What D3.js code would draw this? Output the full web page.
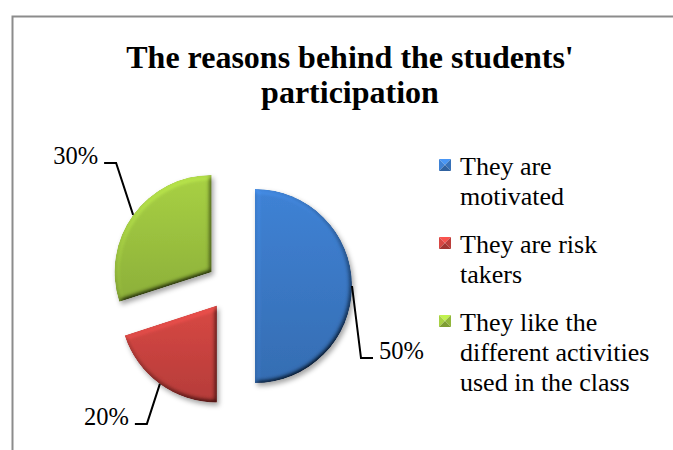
<!DOCTYPE html>
<html>
<head>
<meta charset="utf-8">
<script src="https://cdn.jsdelivr.net/npm/d3@7"></script>
<style>
  html, body { margin: 0; padding: 0; background: #fff; }
  svg { display: block; font-family: "Liberation Serif", "Times New Roman", serif; }
</style>
</head>
<body>
<svg id="chart" width="673" height="450"></svg>
<script>
// chart data
const categories = ["They are motivated", "They are risk takers", "They like the different activities used in the class"];
const legendLines = [["They are", "motivated"], ["They are risk", "takers"], ["They like the", "different activities", "used in the class"]];
const percentages = [50, 20, 30];
const sliceColors = ["#3b79c6", "#c9433f", "#9cc33f"];
const titleLines = ["The reasons behind the students'", "participation"];

// layout
const PIE = { cx: 231, cy: 286, r: 97, explode: 24 };
// where each leader line bends, relative to the slice edge
const labelBend = [[9, 72], [-13, 40], [-17, -52]];
const LEADER_H = 12, LABEL_GAP = 6;

let svg = d3.select("#chart");
let defs = svg.append("defs");

let color = d3.scaleOrdinal(categories, sliceColors);

// frame of the chart area
svg.append("rect")
   .attr("x", 12.5).attr("y", 16.5)
   .attr("width", 720).attr("height", 500)
   .attr("fill", "#fff")
   .attr("stroke", "#8c8c8c")
   .attr("stroke-width", 2);

// title, one text per line
svg.append("g")
   .attr("text-anchor", "middle")
   .attr("font-size", 32)
   .attr("font-weight", "bold")
   .selectAll("text")
   .data(titleLines)
   .enter().append("text")
   .attr("x", 350)
   .attr("y", (d, i) => 68 + i * 35)
   .text((d) => d);

// bevel + shadow filter
let f = defs.append("filter").attr("id", "bevel")
   .attr("x", "-20%").attr("y", "-20%").attr("width", "150%").attr("height", "150%");
f.append("feGaussianBlur").attr("in", "SourceAlpha").attr("stdDeviation", 2.5).attr("result", "blur");
f.append("feDiffuseLighting").attr("in", "blur").attr("surfaceScale", 4)
   .attr("diffuseConstant", 1).attr("lighting-color", "#fff").attr("result", "diff")
   .append("feDistantLight").attr("azimuth", 235).attr("elevation", 55);
f.append("feComposite").attr("in", "SourceGraphic").attr("in2", "diff")
   .attr("operator", "arithmetic").attr("k1", 1.22).attr("k2", 0).attr("k3", 0).attr("k4", 0)
   .attr("result", "lit");
f.append("feComposite").attr("in", "lit").attr("in2", "SourceAlpha").attr("operator", "in").attr("result", "litIn");
f.append("feGaussianBlur").attr("in", "SourceAlpha").attr("stdDeviation", 2.5).attr("result", "sblur");
f.append("feOffset").attr("in", "sblur").attr("dx", 2).attr("dy", 3).attr("result", "soff");
f.append("feFlood").attr("flood-color", "#000").attr("flood-opacity", 0.35).attr("result", "sc");
f.append("feComposite").attr("in", "sc").attr("in2", "soff").attr("operator", "in").attr("result", "shadow");
let merge = f.append("feMerge");
merge.append("feMergeNode").attr("in", "shadow");
merge.append("feMergeNode").attr("in", "litIn");

// gradients per slice
categories.forEach((c, i) => {
  let g = defs.append("linearGradient").attr("id", "grad" + i)
     .attr("x1", 0).attr("y1", 0).attr("x2", 0).attr("y2", 1);
  g.append("stop").attr("offset", "0%").attr("stop-color", d3.color(color(c)).brighter(0.2));
  g.append("stop").attr("offset", "100%").attr("stop-color", d3.color(color(c)).darker(0.3));
});

let pie = d3.pie().sort(null).value((d) => d.value);
let arcs = pie(categories.map((c, i) => ({ name: c, value: percentages[i], i: i })));
let arc = d3.arc().innerRadius(0).outerRadius(PIE.r);

let dir = (a) => [Math.sin(a), -Math.cos(a)];

let slices = svg.append("g").attr("transform", "translate(" + PIE.cx + "," + PIE.cy + ")");

slices.selectAll("path")
   .data(arcs)
   .enter().append("path")
   .attr("transform", (d) => {
     let m = dir((d.startAngle + d.endAngle) / 2);
     return "translate(" + m[0] * PIE.explode + "," + m[1] * PIE.explode + ")";
   })
   .attr("d", arc)
   .attr("fill", (d) => "url(#grad" + d.data.i + ")")
   .attr("filter", "url(#bevel)");

// leader lines and labels
arcs.forEach((d, i) => {
  let mid = (d.startAngle + d.endAngle) / 2;
  let m = dir(mid);
  let edge = [m[0] * (PIE.r + PIE.explode), m[1] * (PIE.r + PIE.explode)];
  let bend = [edge[0] + labelBend[i][0], edge[1] + labelBend[i][1]];
  let side = labelBend[i][0] >= 0 ? 1 : -1;
  let end = [bend[0] + side * LEADER_H, bend[1]];
  slices.append("path")
     .attr("d", d3.line()([edge, bend, end]))
     .attr("fill", "none")
     .attr("stroke", "#000")
     .attr("stroke-width", 2);
  slices.append("text")
     .attr("x", end[0] + side * LABEL_GAP)
     .attr("y", end[1] + 1)
     .attr("text-anchor", side > 0 ? "start" : "end")
     .attr("font-size", 24.5)
     .text(d.data.value + "%");
});

// legend
let legend = svg.append("g").attr("transform", "translate(439,0)");
let baseY = 175;
categories.forEach((c, i) => {
  let g = legend.append("g").attr("transform", "translate(0," + baseY + ")");
  let base = d3.color(color(c));
  let s = 12, y0 = -16;
  let tri = [
    [[0, y0], [s, y0], [s / 2, y0 + s / 2], base.brighter(0.6)],
    [[0, y0], [s / 2, y0 + s / 2], [0, y0 + s], base.brighter(0.2)],
    [[s, y0], [s, y0 + s], [s / 2, y0 + s / 2], base.darker(0.2)],
    [[0, y0 + s], [s / 2, y0 + s / 2], [s, y0 + s], base.darker(0.6)]
  ];
  tri.forEach((t) => {
    g.append("path").attr("d", d3.line()(t.slice(0, 3)) + "Z").attr("fill", t[3]);
  });
  g.append("text")
     .attr("font-size", 26)
     .selectAll("tspan")
     .data(legendLines[i])
     .enter().append("tspan")
     .attr("x", 21)
     .attr("y", (d, j) => j * 30)
     .text((d) => d);
  baseY += legendLines[i].length * 30 + 18;
});
</script>
</body>
</html>
